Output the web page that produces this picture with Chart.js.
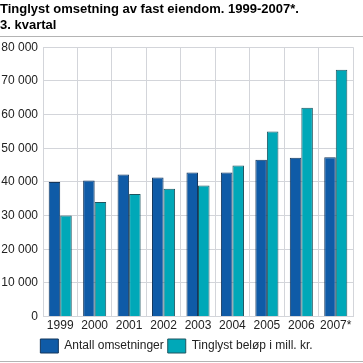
<!DOCTYPE html>
<html>
<head>
<meta charset="utf-8">
<script src="https://cdn.jsdelivr.net/npm/chart.js@4"></script>
<style>
  html, body { margin: 0; padding: 0; background: #fff; }
  #wrap { width: 363px; height: 363px; }
</style>
</head>
<body>
<div id="wrap"><canvas id="chart" width="363" height="363"></canvas></div>
<script>
"use strict";

const years = ["1999", "2000", "2001", "2002", "2003", "2004", "2005", "2006", "2007*"];
const antallOmsetninger = [40000, 40400, 42200, 41300, 42800, 42800, 46600, 47200, 47300];
const tinglystBelop = [30000, 34000, 36400, 38000, 38900, 44900, 55000, 62000, 73300];
const yTicks = [0, 10000, 20000, 30000, 40000, 50000, 60000, 70000, 80000];

const fmt = (v) => String(v).replace(/\B(?=(\d{3})+(?!\d))/g, " ");

// grey rules under the title and at the bottom
const rules = {
  id: "rules",
  afterDraw(chart) {
    const c = chart.ctx;
    c.save();
    c.strokeStyle = "#b4b4b4";
    c.lineWidth = 1;
    c.beginPath();
    c.moveTo(0, 36.5); c.lineTo(363, 36.5);
    c.moveTo(0, 361.5); c.lineTo(363, 361.5);
    c.stroke();
    c.restore();
  }
};

Chart.defaults.font.family = "'Liberation Sans', Arial, sans-serif";
Chart.defaults.color = "#222";

new Chart(document.getElementById("chart"), {
  type: "bar",
  data: {
    labels: years,
    datasets: [
      { label: "Antall omsetninger", data: antallOmsetninger, backgroundColor: "#0f5ba7", borderColor: "#13365c", borderWidth: 1 },
      { label: "Tinglyst beløp i mill. kr.", data: tinglystBelop, backgroundColor: "#00a8b8", borderColor: "#1e5560", borderWidth: 1 },
    ],
  },
  options: {
    responsive: false,
    animation: false,
    layout: { padding: { left: 0, right: 10, top: 0, bottom: 0 } },
    datasets: { bar: { categoryPercentage: 0.67, barPercentage: 1 } },
    plugins: {
      title: {
        display: true,
        text: ["Tinglyst omsetning av fast eiendom. 1999-2007*.", "3. kvartal"],
        align: "start",
        color: "#000",
        font: { size: 13, weight: "bold" },
        padding: { top: 2, bottom: 14 },
      },
      legend: {
        display: true,
        position: "bottom",
        labels: { boxWidth: 18, boxHeight: 14, font: { size: 12 }, color: "#222", padding: 4 },
      },
      tooltip: { enabled: false },
    },
    scales: {
      x: {
        grid: { color: "#d3d5da", offset: true, drawTicks: false },
        border: { color: "#d3d5da" },
        ticks: { font: { size: 12 }, color: "#222", padding: 2, maxRotation: 0, autoSkip: false },
      },
      y: {
        min: 0,
        max: 80000,
        afterBuildTicks: (axis) => { axis.ticks = yTicks.map(v => ({ value: v })); },
        afterFit: (axis) => { axis.width = 43; },
        grid: { color: "#d3d5da", drawTicks: false },
        border: { color: "#d3d5da" },
        ticks: { font: { size: 12 }, color: "#222", padding: 5, callback: (v) => fmt(v) },
      },
    },
  },
  plugins: [rules],
});
</script>
</body>
</html>
